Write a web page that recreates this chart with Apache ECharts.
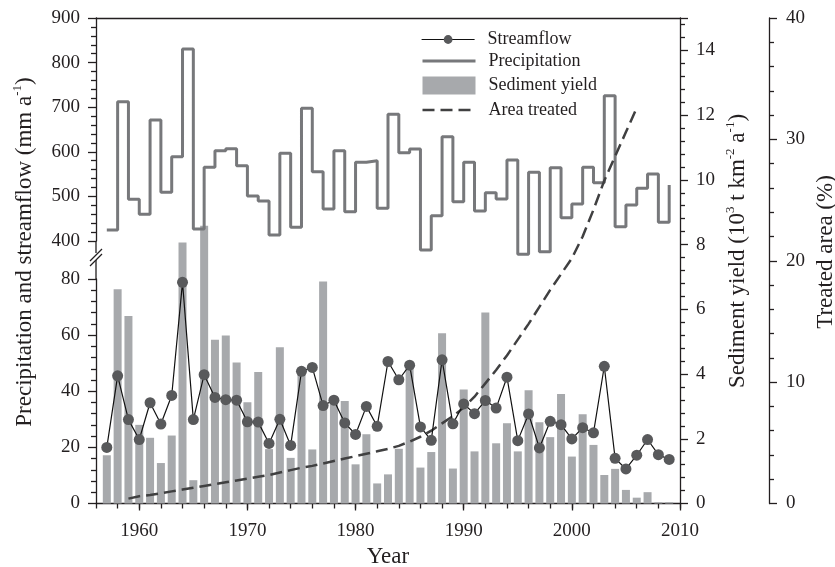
<!DOCTYPE html>
<html><head><meta charset="utf-8">
<script src="https://cdn.jsdelivr.net/npm/echarts@6/dist/echarts.min.js"></script>
<style>html,body{margin:0;padding:0;background:#fff}#c{width:835px;height:567px}</style>
</head><body><div id="c"></div>
<script>
const years = [1957,1958,1959,1960,1961,1962,1963,1964,1965,1966,1967,1968,1969,1970,1971,1972,1973,1974,1975,1976,1977,1978,1979,1980,1981,1982,1983,1984,1985,1986,1987,1988,1989,1990,1991,1992,1993,1994,1995,1996,1997,1998,1999,2000,2001,2002,2003,2004,2005,2006,2007,2008,2009];
const streamflow = [20.0,45.5,29.9,22.8,35.9,28.3,38.5,78.8,29.9,45.9,37.8,37.0,36.8,29.1,29.0,21.4,30.0,20.7,47.1,48.5,34.9,36.8,28.7,24.6,34.6,27.5,50.6,44.1,49.3,27.3,22.5,51.2,28.4,35.5,32.0,36.7,34.0,45.0,22.4,31.9,19.8,29.3,28.1,23.0,27.0,25.2,48.9,16.1,12.3,17.2,22.8,17.4,15.7];
const precipitation = [424.7,712.4,493.4,459.8,671.3,509.1,589.1,830.5,427.0,565.2,602.5,607.0,569.0,501.0,489.7,413.5,596.6,430.6,697.5,555.5,471.7,602.5,465.8,576.4,580.0,473.2,684.0,598.0,606.3,379.8,456.8,634.0,488.2,576.4,467.3,508.4,494.2,581.6,370.1,554.0,376.1,564.4,452.3,483.0,565.2,530.8,725.9,432.1,480.7,518.1,550.2,441.9,525.6];
const sedimentYield = [1.49,6.62,5.79,2.43,2.03,1.25,2.10,8.06,0.72,8.58,5.06,5.19,4.36,3.13,4.06,1.68,4.83,1.41,4.07,1.67,6.86,3.28,3.17,1.21,2.14,0.62,0.90,1.69,4.23,1.11,1.59,5.26,1.08,3.52,1.61,5.90,1.86,2.48,1.61,3.50,2.51,2.05,3.38,1.45,2.76,1.81,0.88,1.07,0.42,0.18,0.35,0.04,0.04];
const treatedYears = [1959,1960,1961,1962,1963,1964,1965,1966,1967,1968,1969,1970,1971,1972,1973,1974,1975,1976,1977,1978,1979,1980,1981,1982,1983,1984,1985,1986,1987,1988,1989,1990,1991,1992,1993,1994,1995,1996,1997,1998,1999,2000,2001,2002,2003,2004,2005,2006];
const areaTreated = [0.4,0.6,0.7,0.85,1.0,1.15,1.3,1.45,1.6,1.75,1.9,2.05,2.2,2.35,2.55,2.75,2.95,3.1,3.3,3.5,3.7,3.9,4.1,4.3,4.5,4.75,5.1,5.5,6.0,6.6,7.2,7.9,8.8,9.9,11.0,12.2,13.5,14.8,16.2,17.6,18.9,20.2,22.0,24.2,26.6,28.6,30.6,32.6];
const decadeTicks = [1960,1970,1980,1990,2000,2010];

const FONT = 'Liberation Serif';
const INK = '#231f20';
const XMIN = 1956, XMAX = 2010;
const lineW = 1.3;

const chart = echarts.init(document.getElementById('c'));
const axLine = {show:true, onZero:false, lineStyle:{color:INK, width:lineW}};
const majTick = {show:true, length:8, lineStyle:{color:INK, width:lineW}};
const minTick = {show:true, splitNumber:5, length:5, lineStyle:{color:INK, width:lineW}};
const lab = {color:INK, fontSize:19, fontFamily:FONT};
const rich = {n:{fontSize:23, fontFamily:FONT, fill:INK, lineHeight:27}, s:{fontSize:13, fontFamily:FONT, fill:INK, lineHeight:27, verticalAlign:'top'}};
const gridBase = {left:96, right:155, outerBoundsMode:'none', containLabel:false};

const option = {
  animation:false,
  textStyle:{fontFamily:FONT},
  grid:[
    Object.assign({top:18, bottom:63.5}, gridBase),
    Object.assign({top:18, height:223}, gridBase),
    Object.assign({top:279, bottom:63.5}, gridBase)
  ],
  xAxis:[
    {gridIndex:0, type:'value', min:XMIN, max:XMAX, interval:2, position:'bottom',
     axisLine:axLine, axisTick:{show:true, length:5, lineStyle:{color:INK, width:lineW}},
     axisLabel:Object.assign({margin:18, formatter:v=> (v%10===0? String(v):'')}, lab),
     splitLine:{show:false},
     name:'Year', nameLocation:'middle', nameGap:42, nameTextStyle:{fontSize:23, color:INK, fontFamily:FONT}},
    {gridIndex:0, type:'value', min:XMIN, max:XMAX, position:'bottom',
     axisLine:{show:false, onZero:false}, axisTick:{show:true, length:7, customValues:decadeTicks, lineStyle:{color:INK, width:lineW}},
     axisLabel:{show:false}, splitLine:{show:false}},
    {gridIndex:0, type:'value', min:XMIN, max:XMAX, position:'top',
     axisLine:axLine, axisTick:{show:false}, axisLabel:{show:false}, splitLine:{show:false}},
    {gridIndex:1, type:'value', min:XMIN, max:XMAX, show:false},
    {gridIndex:2, type:'value', min:XMIN, max:XMAX, show:false}
  ],
  yAxis:[
    {gridIndex:0, type:'value', position:'right', min:0, max:15, interval:2,
     axisLine:axLine, axisTick:majTick, minorTick:minTick,
     axisLabel:Object.assign({margin:16, formatter:v=> (v>14? '':String(v))}, lab), splitLine:{show:false}, minorSplitLine:{show:false}},
    {gridIndex:0, type:'value', position:'right', offset:89, min:0, max:40, interval:10,
     axisLine:axLine, axisTick:majTick, minorTick:minTick,
     axisLabel:Object.assign({margin:17}, lab), splitLine:{show:false}, minorSplitLine:{show:false}},
    {gridIndex:1, type:'value', position:'left', min:400, max:900, interval:100,
     axisLine:axLine, axisTick:majTick, minorTick:minTick,
     axisLabel:Object.assign({margin:16}, lab), splitLine:{show:false}, minorSplitLine:{show:false}},
    {gridIndex:2, type:'value', position:'left', min:0, max:80, interval:20,
     axisLine:axLine, axisTick:majTick, minorTick:minTick,
     axisLabel:Object.assign({margin:16}, lab), splitLine:{show:false}, minorSplitLine:{show:false}}
  ],
  legend:[
    {data:['Streamflow'], left:421, top:30.5, padding:0, itemWidth:53, itemHeight:11,
     lineStyle:{width:'inherit'}, selectedMode:false,
     textStyle:{fontSize:18, color:INK, fontFamily:FONT, padding:[0,0,0,8]}},
    {data:[{name:'Precipitation', itemStyle:{color:'rgba(0,0,0,0)', borderWidth:0}},
           {name:'Sediment yield', icon:'rect'},
           {name:'Area treated', itemStyle:{color:'rgba(0,0,0,0)', borderWidth:0}}],
     orient:'vertical', left:421, top:52, padding:0, itemGap:6.5, itemWidth:53, itemHeight:18,
     lineStyle:{width:'inherit'}, selectedMode:false,
     textStyle:{fontSize:18, color:INK, fontFamily:FONT, padding:[0,0,0,8]}}
  ],
  series:[
    {name:'Sediment yield', type:'bar', xAxisIndex:0, yAxisIndex:0, barWidth:8,
     data:years.map((y,i)=>[y, sedimentYield[i]]), itemStyle:{color:'#a7a9ac'}, z:1},
    {name:'Area treated', type:'line', xAxisIndex:0, yAxisIndex:1, symbol:'none',
     data:treatedYears.map((y,i)=>[y, areaTreated[i]]),
     lineStyle:{color:'#404041', width:2.5, type:[12,6]}, itemStyle:{color:'#404041'}, z:3},
    {name:'Precipitation', type:'line', xAxisIndex:3, yAxisIndex:2, step:'end', symbol:'none', clip:false,
     data:years.map((y,i)=>[y, precipitation[i]]),
     lineStyle:{color:'#77787b', width:3}, itemStyle:{color:'#77787b'}, z:2},
    {name:'Streamflow', type:'line', xAxisIndex:4, yAxisIndex:3, symbol:'circle', symbolSize:11,
     data:years.map((y,i)=>[y, streamflow[i]]),
     lineStyle:{color:'#111111', width:1.2}, itemStyle:{color:'#58595b'}, z:4}
  ],
  graphic:[
    {type:'line', shape:{x1:96, y1:241, x2:96, y2:253}, style:{stroke:INK, lineWidth:lineW}},
    {type:'line', shape:{x1:96, y1:260, x2:96, y2:279}, style:{stroke:INK, lineWidth:lineW}},
    {type:'line', shape:{x1:90, y1:261, x2:102, y2:249}, style:{stroke:INK, lineWidth:lineW}},
    {type:'line', shape:{x1:90, y1:266, x2:102, y2:254}, style:{stroke:INK, lineWidth:lineW}},
    {type:'text', x:25, y:252, rotation:Math.PI/2,
     style:{text:'{n|Precipitation and streamflow (mm a}{s|-1}{n|)}', align:'center', verticalAlign:'middle', rich:rich}},
    {type:'text', x:738, y:251, rotation:Math.PI/2,
     style:{text:'{n|Sediment yield (10}{s|3}{n| t km}{s|-2}{n| a}{s|-1}{n|)}', align:'center', verticalAlign:'middle', rich:rich}},
    {type:'text', x:826, y:252, rotation:Math.PI/2,
     style:{text:'Treated area (%)', align:'center', verticalAlign:'middle', fontSize:23, fontFamily:FONT, fill:INK}}
  ]
};
chart.setOption(option);
</script></body></html>
